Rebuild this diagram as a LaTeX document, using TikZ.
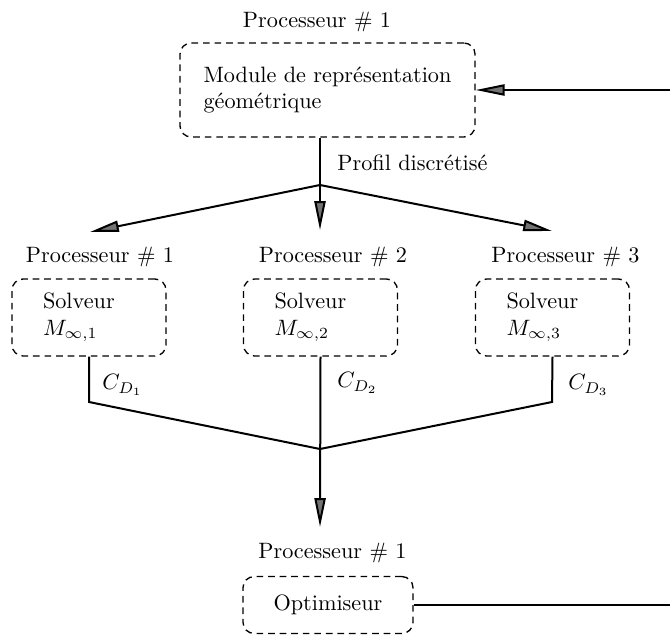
\documentclass[tikz,border=0pt]{standalone}
\usetikzlibrary{arrows.meta}
\begin{document}
\begin{tikzpicture}[x=0.45pt,y=-0.45pt,
  dbox/.style={draw, dash pattern=on 3pt off 2.2pt, line width=0.6pt, rounded corners=5pt},
  conn/.style={line width=0.9pt},
  arr/.style={conn, -{Triangle[length=13pt,width=5pt,fill=black!55]}},
  lbl/.style={inner sep=0pt}
]
\useasboundingbox (0,0) rectangle (670,635);

% top
\node[lbl] (p0) at (317,22) {Processeur \# 1};
\node[dbox, align=left, minimum width=132.75pt, minimum height=42.3pt] (mod) at (327.5,90)
  {Module de représentation\\géométrique};
\coordinate (j1) at (320,185);
\node[lbl, anchor=west] (prof) at (337,163) {Profil discrétisé};

% solver row
\node[lbl] (p1) at (100,257) {Processeur \# 1};
\node[lbl] (p2) at (333,257) {Processeur \# 2};
\node[lbl] (p3) at (565.5,257) {Processeur \# 3};

\tikzset{sbox/.style={dbox, text width=41.4pt, inner xsep=13.95pt, align=left, minimum height=34.65pt}}
\node[sbox] (s1) at (89,317.5) {Solveur\\$M_{\infty,1}$};
\node[sbox] (s2) at (320.5,317.5) {Solveur\\$M_{\infty,2}$};
\node[sbox] (s3) at (552.5,317.5) {Solveur\\$M_{\infty,3}$};

\coordinate (a1) at (90,232);
\coordinate (a2) at (320,230);
\coordinate (a3) at (552,231);

\node[lbl, anchor=west] (c1) at (102,385) {$C_{D_1}$};
\node[lbl, anchor=west] (c2) at (337,383) {$C_{D_2}$};
\node[lbl, anchor=west] (c3) at (568,385) {$C_{D_3}$};

\coordinate (k1) at (89,402);
\coordinate (k3) at (552,402);
\coordinate (j2) at (320,449);
\coordinate (a4) at (320,527);

% bottom
\node[lbl] (p4) at (332.5,553) {Processeur \# 1};
\node[dbox, minimum width=76.5pt, minimum height=25.6pt] (opt) at (328,605) {Optimiseur};
\coordinate (r1) at (680,605);

% connectors
\draw[conn] (j1 |- mod.south) -- (j1);
\draw[arr] (j1) -- (a1);
\draw[arr] (j1) -- (a2);
\draw[arr] (j1) -- (a3);
\draw[conn] (s1.south) -- (k1) -- (j2);
\draw[conn] (s3.south) -- (k3) -- (j2);
\draw[arr] (s2.south) -- (a4);
\draw[arr] (opt.east) -- (r1) |- (mod.east);
\end{tikzpicture}
\end{document}
